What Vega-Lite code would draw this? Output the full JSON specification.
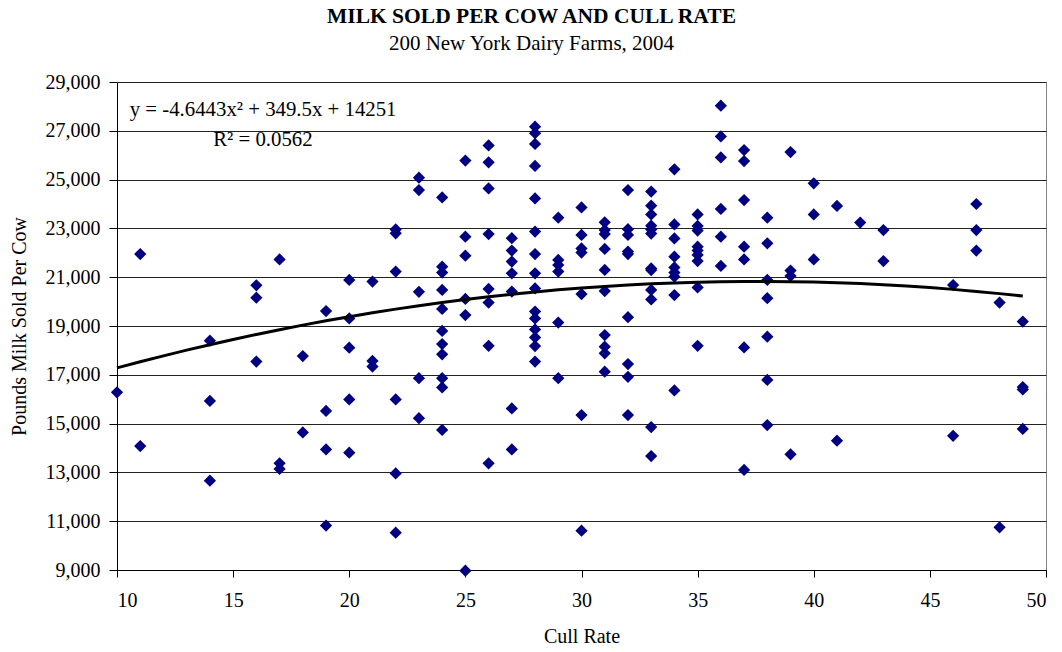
{
  "$schema": "https://vega.github.io/schema/vega-lite/v6.json",
  "description": "Milk sold per cow vs cull rate, 200 New York dairy farms, 2004, with a 2nd order polynomial trend line.",
  "autosize": {"type": "none"},
  "padding": {"left": 117, "top": 82, "right": 16, "bottom": 82},
  "width": 929,
  "height": 488,
  "background": "white",
  "title": {
    "text": "MILK SOLD PER COW AND CULL RATE",
    "subtitle": "200 New York Dairy Farms, 2004",
    "anchor": "middle",
    "frame": "group",
    "dx": -50,
    "offset": 18,
    "font": "Liberation Serif",
    "fontSize": 21.5,
    "fontWeight": "bold",
    "color": "black",
    "subtitleFont": "Liberation Serif",
    "subtitleFontSize": 21,
    "subtitleColor": "black",
    "subtitlePadding": 6
  },
  "datasets": {
    "pts": [
      {"cull": 10, "milk": 16280},
      {"cull": 11, "milk": 21950}, {"cull": 11, "milk": 14080},
      {"cull": 14, "milk": 18400}, {"cull": 14, "milk": 15930}, {"cull": 14, "milk": 12660},
      {"cull": 16, "milk": 20670}, {"cull": 16, "milk": 20160}, {"cull": 16, "milk": 17540},
      {"cull": 17, "milk": 21730}, {"cull": 17, "milk": 13370}, {"cull": 17, "milk": 13140},
      {"cull": 18, "milk": 17770}, {"cull": 18, "milk": 14640},
      {"cull": 19, "milk": 19610}, {"cull": 19, "milk": 15520}, {"cull": 19, "milk": 13940}, {"cull": 19, "milk": 10820},
      {"cull": 20, "milk": 20890}, {"cull": 20, "milk": 19310}, {"cull": 20, "milk": 18110}, {"cull": 20, "milk": 15990}, {"cull": 20, "milk": 13810},
      {"cull": 21, "milk": 20820}, {"cull": 21, "milk": 17570}, {"cull": 21, "milk": 17340},
      {"cull": 22, "milk": 22960}, {"cull": 22, "milk": 22800}, {"cull": 22, "milk": 21230}, {"cull": 22, "milk": 15990}, {"cull": 22, "milk": 12960}, {"cull": 22, "milk": 10530},
      {"cull": 23, "milk": 25080}, {"cull": 23, "milk": 24570}, {"cull": 23, "milk": 20400}, {"cull": 23, "milk": 16860}, {"cull": 23, "milk": 15220},
      {"cull": 24, "milk": 24270}, {"cull": 24, "milk": 21430}, {"cull": 24, "milk": 21190}, {"cull": 24, "milk": 20480}, {"cull": 24, "milk": 19700}, {"cull": 24, "milk": 18800}, {"cull": 24, "milk": 18260}, {"cull": 24, "milk": 17840}, {"cull": 24, "milk": 16860}, {"cull": 24, "milk": 16480}, {"cull": 24, "milk": 14740},
      {"cull": 25, "milk": 25780}, {"cull": 25, "milk": 22660}, {"cull": 25, "milk": 21880}, {"cull": 25, "milk": 20110}, {"cull": 25, "milk": 19450}, {"cull": 25, "milk": 8970},
      {"cull": 26, "milk": 26400}, {"cull": 26, "milk": 25710}, {"cull": 26, "milk": 24640}, {"cull": 26, "milk": 22770}, {"cull": 26, "milk": 20520}, {"cull": 26, "milk": 19960}, {"cull": 26, "milk": 18190}, {"cull": 26, "milk": 13370},
      {"cull": 27, "milk": 22600}, {"cull": 27, "milk": 22090}, {"cull": 27, "milk": 21640}, {"cull": 27, "milk": 21160}, {"cull": 27, "milk": 20410}, {"cull": 27, "milk": 15620}, {"cull": 27, "milk": 13940},
      {"cull": 28, "milk": 27170}, {"cull": 28, "milk": 26900}, {"cull": 28, "milk": 26460}, {"cull": 28, "milk": 25560}, {"cull": 28, "milk": 24230}, {"cull": 28, "milk": 22870}, {"cull": 28, "milk": 21950}, {"cull": 28, "milk": 21160}, {"cull": 28, "milk": 20540}, {"cull": 28, "milk": 19590}, {"cull": 28, "milk": 19310}, {"cull": 28, "milk": 18860}, {"cull": 28, "milk": 18530}, {"cull": 28, "milk": 18180}, {"cull": 28, "milk": 17540},
      {"cull": 29, "milk": 23440}, {"cull": 29, "milk": 21710}, {"cull": 29, "milk": 21500}, {"cull": 29, "milk": 21230}, {"cull": 29, "milk": 19140}, {"cull": 29, "milk": 16860},
      {"cull": 30, "milk": 23860}, {"cull": 30, "milk": 22730}, {"cull": 30, "milk": 22180}, {"cull": 30, "milk": 22010}, {"cull": 30, "milk": 20310}, {"cull": 30, "milk": 15350}, {"cull": 30, "milk": 10610},
      {"cull": 31, "milk": 23250}, {"cull": 31, "milk": 22930}, {"cull": 31, "milk": 22770}, {"cull": 31, "milk": 22160}, {"cull": 31, "milk": 21300}, {"cull": 31, "milk": 20430}, {"cull": 31, "milk": 18630}, {"cull": 31, "milk": 18150}, {"cull": 31, "milk": 17880}, {"cull": 31, "milk": 17130},
      {"cull": 32, "milk": 24570}, {"cull": 32, "milk": 22970}, {"cull": 32, "milk": 22730}, {"cull": 32, "milk": 22050}, {"cull": 32, "milk": 21950}, {"cull": 32, "milk": 19360}, {"cull": 32, "milk": 17440}, {"cull": 32, "milk": 16920}, {"cull": 32, "milk": 15350},
      {"cull": 33, "milk": 24510}, {"cull": 33, "milk": 23930}, {"cull": 33, "milk": 23570}, {"cull": 33, "milk": 23110}, {"cull": 33, "milk": 22960}, {"cull": 33, "milk": 22790}, {"cull": 33, "milk": 21360}, {"cull": 33, "milk": 21290}, {"cull": 33, "milk": 20480}, {"cull": 33, "milk": 20090}, {"cull": 33, "milk": 14860}, {"cull": 33, "milk": 13670},
      {"cull": 34, "milk": 25420}, {"cull": 34, "milk": 23160}, {"cull": 34, "milk": 22590}, {"cull": 34, "milk": 21840}, {"cull": 34, "milk": 21400}, {"cull": 34, "milk": 21190}, {"cull": 34, "milk": 21020}, {"cull": 34, "milk": 20270}, {"cull": 34, "milk": 16360},
      {"cull": 35, "milk": 23570}, {"cull": 35, "milk": 23100}, {"cull": 35, "milk": 22910}, {"cull": 35, "milk": 22250}, {"cull": 35, "milk": 22090}, {"cull": 35, "milk": 21910}, {"cull": 35, "milk": 21660}, {"cull": 35, "milk": 20580}, {"cull": 35, "milk": 18190},
      {"cull": 36, "milk": 28030}, {"cull": 36, "milk": 26770}, {"cull": 36, "milk": 25910}, {"cull": 36, "milk": 23800}, {"cull": 36, "milk": 22660}, {"cull": 36, "milk": 21460},
      {"cull": 37, "milk": 26210}, {"cull": 37, "milk": 25760}, {"cull": 37, "milk": 24160}, {"cull": 37, "milk": 22250}, {"cull": 37, "milk": 21730}, {"cull": 37, "milk": 18120}, {"cull": 37, "milk": 13100},
      {"cull": 38, "milk": 23440}, {"cull": 38, "milk": 22390}, {"cull": 38, "milk": 20890}, {"cull": 38, "milk": 20140}, {"cull": 38, "milk": 18560}, {"cull": 38, "milk": 16790}, {"cull": 38, "milk": 14940},
      {"cull": 39, "milk": 26130}, {"cull": 39, "milk": 21270}, {"cull": 39, "milk": 21050}, {"cull": 39, "milk": 13740},
      {"cull": 40, "milk": 24850}, {"cull": 40, "milk": 23570}, {"cull": 40, "milk": 21730},
      {"cull": 41, "milk": 23920}, {"cull": 41, "milk": 14300},
      {"cull": 42, "milk": 23240},
      {"cull": 43, "milk": 22930}, {"cull": 43, "milk": 21660},
      {"cull": 46, "milk": 20680}, {"cull": 46, "milk": 14500},
      {"cull": 47, "milk": 24000}, {"cull": 47, "milk": 22930}, {"cull": 47, "milk": 22090},
      {"cull": 48, "milk": 19960}, {"cull": 48, "milk": 10750},
      {"cull": 49, "milk": 19180}, {"cull": 49, "milk": 16500}, {"cull": 49, "milk": 16400}, {"cull": 49, "milk": 14780}
    ],
    "trend": [
      {"cull": 10, "milk": 17282}, {"cull": 11, "milk": 17534}, {"cull": 12, "milk": 17776}, {"cull": 13, "milk": 18010},
      {"cull": 14, "milk": 18234}, {"cull": 15, "milk": 18449}, {"cull": 16, "milk": 18654}, {"cull": 17, "milk": 18850},
      {"cull": 18, "milk": 19037}, {"cull": 19, "milk": 19215}, {"cull": 20, "milk": 19383}, {"cull": 21, "milk": 19542},
      {"cull": 22, "milk": 19692}, {"cull": 23, "milk": 19833}, {"cull": 24, "milk": 19964}, {"cull": 25, "milk": 20086},
      {"cull": 26, "milk": 20199}, {"cull": 27, "milk": 20302}, {"cull": 28, "milk": 20396}, {"cull": 29, "milk": 20481},
      {"cull": 30, "milk": 20556}, {"cull": 31, "milk": 20622}, {"cull": 32, "milk": 20679}, {"cull": 33, "milk": 20727},
      {"cull": 34, "milk": 20765}, {"cull": 35, "milk": 20794}, {"cull": 36, "milk": 20814}, {"cull": 37, "milk": 20825},
      {"cull": 38, "milk": 20826}, {"cull": 39, "milk": 20818}, {"cull": 40, "milk": 20800}, {"cull": 41, "milk": 20773},
      {"cull": 42, "milk": 20738}, {"cull": 43, "milk": 20692}, {"cull": 44, "milk": 20638}, {"cull": 45, "milk": 20574},
      {"cull": 46, "milk": 20501}, {"cull": 47, "milk": 20418}, {"cull": 48, "milk": 20327}, {"cull": 49, "milk": 20226}
    ],
    "notes": [
      {"label": "y = -4.6443x² + 349.5x + 14251"},
      {"label": "R² = 0.0562"}
    ]
  },
  "layer": [
    {
      "data": {"name": "pts"},
      "mark": {"type": "point", "shape": "diamond", "filled": true, "size": 150, "color": "#000080", "opacity": 1},
      "encoding": {
        "x": {
          "field": "cull",
          "type": "quantitative",
          "title": "Cull Rate",
          "scale": {"domain": [10, 50], "nice": false, "zero": false},
          "axis": {
            "values": [10, 15, 20, 25, 30, 35, 40, 45, 50],
            "grid": false,
            "tickSize": 7,
            "labelPadding": 13,
            "titlePadding": 16
          }
        },
        "y": {
          "field": "milk",
          "type": "quantitative",
          "title": "Pounds Milk Sold Per Cow",
          "scale": {"domain": [9000, 29000], "nice": false, "zero": false},
          "axis": {
            "values": [9000, 11000, 13000, 15000, 17000, 19000, 21000, 23000, 25000, 27000, 29000],
            "format": ",d",
            "grid": true,
            "tickSize": 8,
            "labelPadding": 9,
            "titlePadding": 16
          }
        }
      }
    },
    {
      "data": {"name": "trend"},
      "mark": {"type": "line", "color": "black", "strokeWidth": 3},
      "encoding": {
        "x": {"field": "cull", "type": "quantitative"},
        "y": {"field": "milk", "type": "quantitative"}
      }
    },
    {
      "data": {"name": "notes"},
      "transform": [{"filter": "datum.label[0] == 'y'"}],
      "mark": {"type": "text", "align": "left", "baseline": "middle", "font": "Liberation Serif", "fontSize": 20.8, "color": "black"},
      "encoding": {
        "x": {"datum": 10.55, "type": "quantitative"},
        "y": {"datum": 27850, "type": "quantitative"},
        "text": {"field": "label"}
      }
    },
    {
      "data": {"name": "notes"},
      "transform": [{"filter": "datum.label[0] == 'R'"}],
      "mark": {"type": "text", "align": "left", "baseline": "middle", "font": "Liberation Serif", "fontSize": 20.8, "color": "black"},
      "encoding": {
        "x": {"datum": 14.14, "type": "quantitative"},
        "y": {"datum": 26620, "type": "quantitative"},
        "text": {"field": "label"}
      }
    }
  ],
  "config": {
    "font": "Liberation Serif",
    "view": {"stroke": "#808080", "strokeWidth": 1},
    "axis": {
      "domainColor": "black",
      "domainWidth": 1,
      "tickColor": "black",
      "gridColor": "#222222",
      "gridWidth": 1,
      "labelFont": "Liberation Serif",
      "labelFontSize": 20,
      "labelColor": "black",
      "titleFont": "Liberation Serif",
      "titleFontSize": 20,
      "titleFontWeight": "normal",
      "titleColor": "black"
    }
  }
}
